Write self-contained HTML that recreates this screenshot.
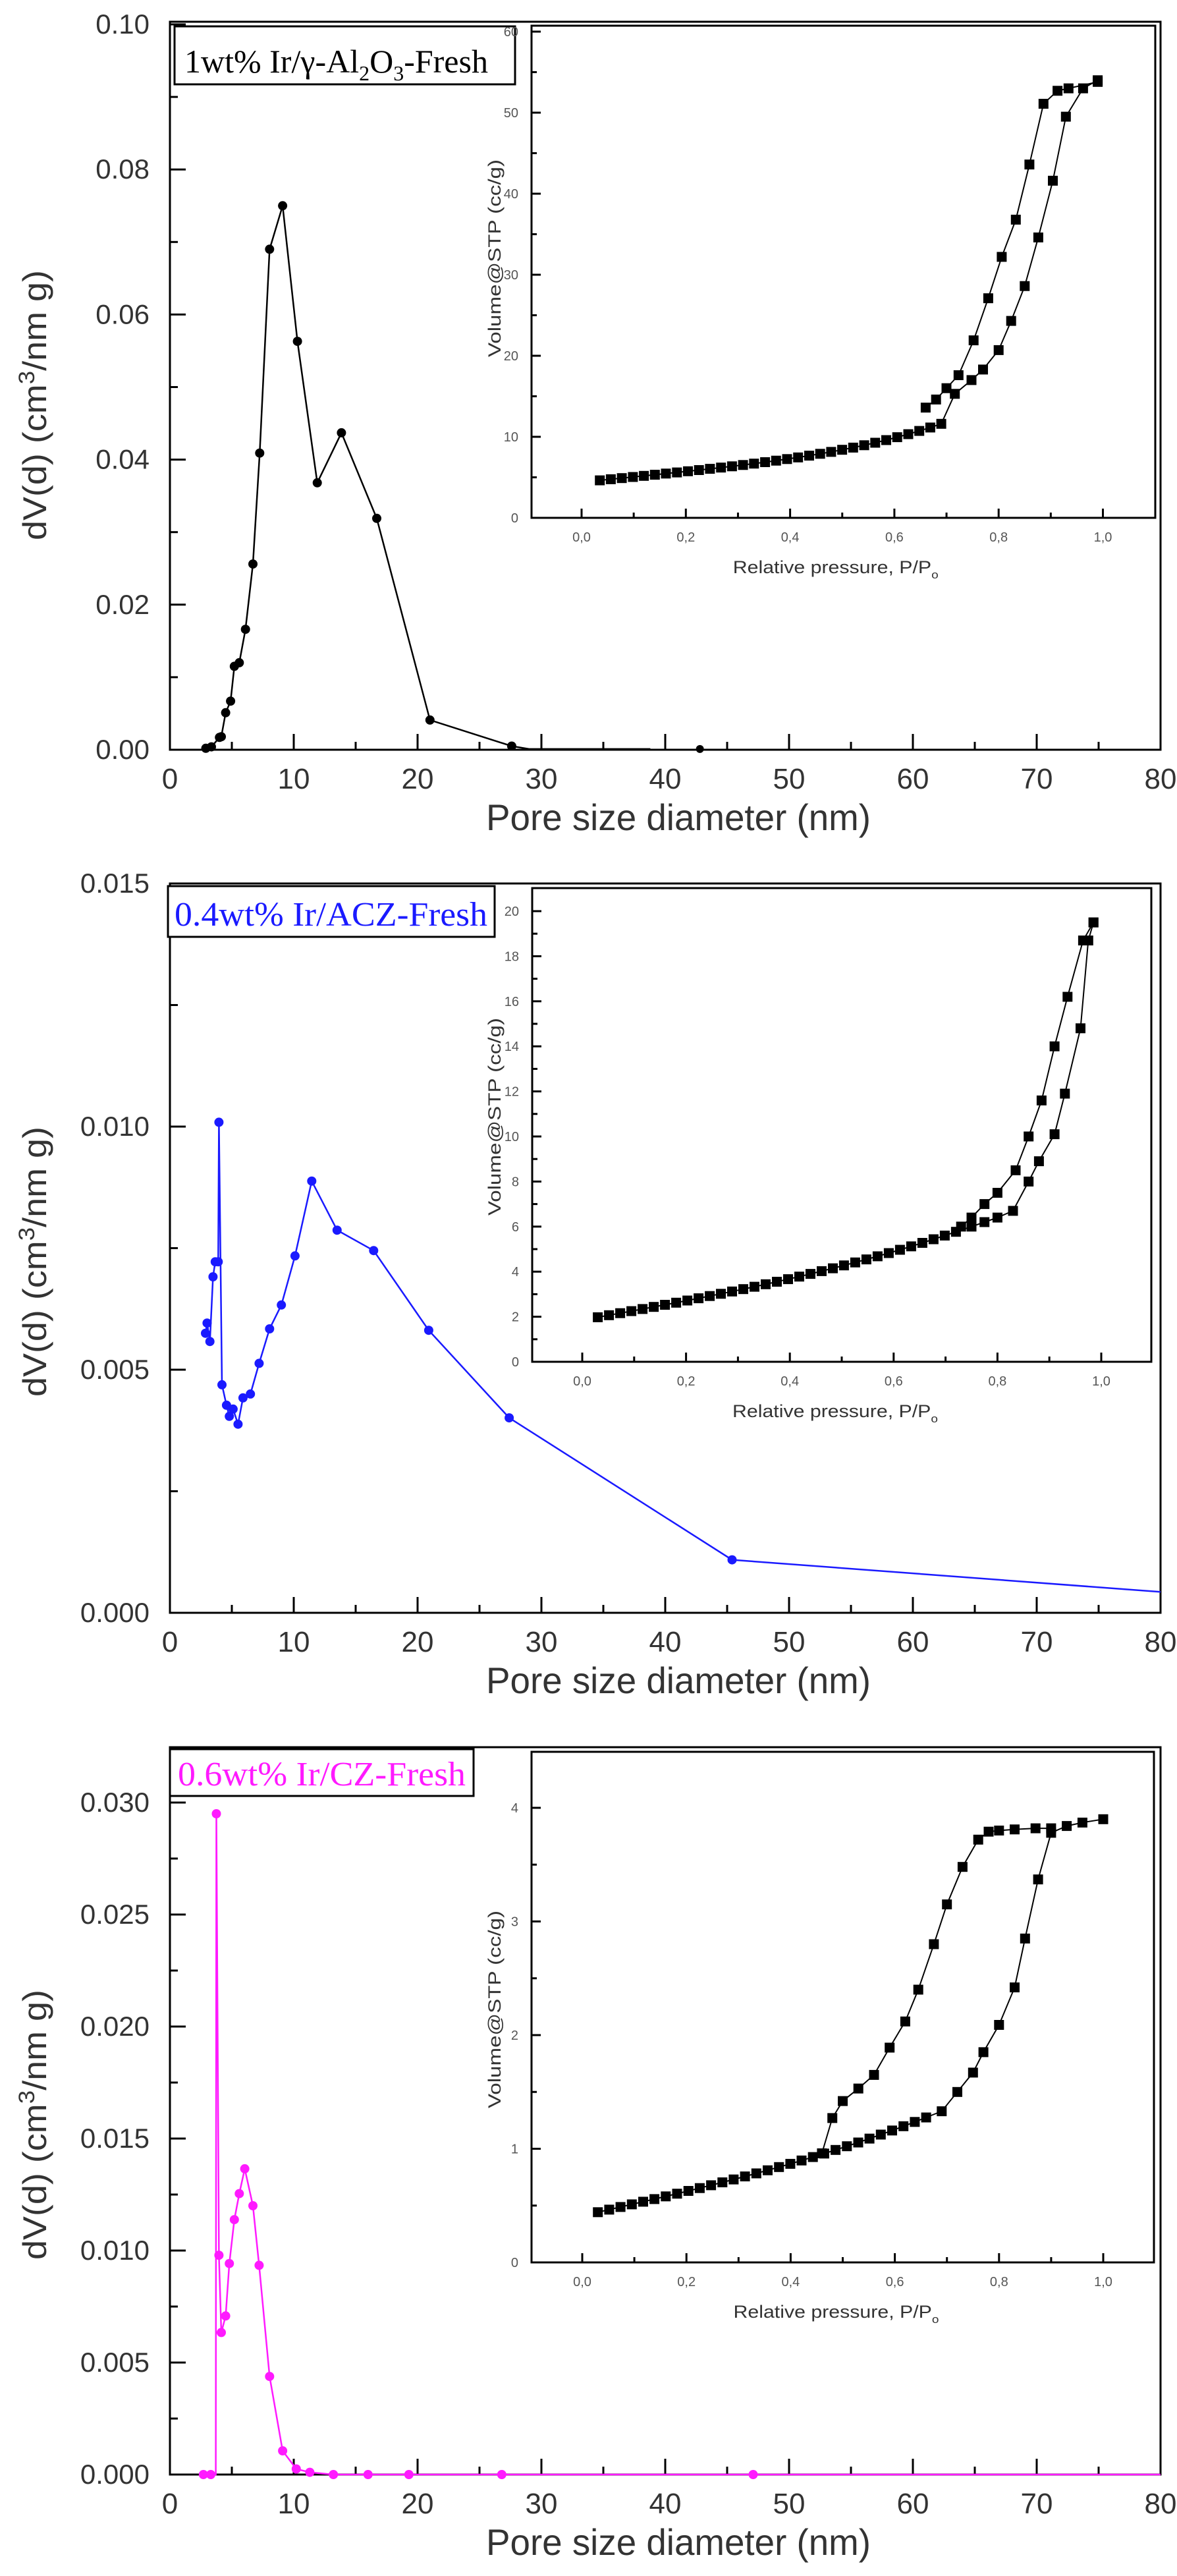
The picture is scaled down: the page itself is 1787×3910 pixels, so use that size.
<!DOCTYPE html>
<html><head><meta charset="utf-8">
<style>html,body{margin:0;padding:0;background:#fff;}svg{display:block;}</style>
</head><body>
<svg id="s" xmlns="http://www.w3.org/2000/svg" width="1787" height="3910" viewBox="0 0 1787 3910"></svg>
<script>
var S=document.getElementById('s'),out=[];
function L(x1,y1,x2,y2,c,w){out.push('<line x1="'+x1+'" y1="'+y1+'" x2="'+x2+'" y2="'+y2+'" stroke="'+(c||'#000')+'" stroke-width="'+(w||3)+'"/>');}
function T(x,y,t,o){o=o||{};out.push('<text x="'+x+'" y="'+y+'" font-family="'+(o.ff||'Liberation Sans, sans-serif')+'" font-size="'+(o.fs||42)+'" fill="'+(o.fill||'#333')+'" text-anchor="'+(o.a||'middle')+'"'+(o.tl?' textLength="'+o.tl+'" lengthAdjust="spacingAndGlyphs"':'')+(o.tr?' transform="'+o.tr+'"':'')+'>'+t+'</text>');}
function main(p){
 var X0=258,X1=1762,sx=(X1-X0)/80;
 var Y0=p.y0,sy=(p.y0-p.ytop)/p.ymax;
 var fx=function(v){return X0+v*sx},fy=function(v){return Y0-v*sy};
 out.push('<rect x="'+X0+'" y="'+p.ftop+'" width="'+(X1-X0)+'" height="'+(Y0-p.ftop)+'" fill="none" stroke="#000" stroke-width="3"/>');
 for(var v=0;v<=80;v+=5){var x=fx(v);L(x,Y0,x,Y0-(v%10==0?24:12));if(v%10==0)T(x,Y0+59,v,{fs:44});}
 var n=Math.round(p.ymax/p.minor);
 for(var i=0;i<=n;i++){var v=i*p.minor,y=fy(v),maj=(i%2==0);L(X0,y,X0+(maj?24:12),y);if(maj)T(X0-31,y+14,v.toFixed(p.dec),{a:'end',fs:42});}
 T(1030,Y0+122,'Pore size diameter (nm)',{fs:56,tl:584});
 T(0,0,'dV(d) (cm<tspan dy="-18" font-size="34">3</tspan><tspan dy="18">/nm g)</tspan>',{fs:50,tr:'translate(70,'+p.ylc+') rotate(-90)',tl:410});
 var pts=p.data.map(function(d){return fx(d[0]).toFixed(1)+','+fy(d[1]).toFixed(1)});
 out.push('<polyline points="'+pts.join(' ')+'" fill="none" stroke="'+p.col+'" stroke-width="2.5"/>');
 if(p.extra)p.extra(fx,fy);
 p.data.forEach(function(d){if(d[2]!==0)out.push('<circle cx="'+fx(d[0]).toFixed(1)+'" cy="'+fy(d[1]).toFixed(1)+'" r="7" fill="'+p.col+'"/>');});
 var b=p.leg;out.push('<rect x="'+b[0]+'" y="'+b[1]+'" width="'+(b[2]-b[0])+'" height="'+(b[3]-b[1])+'" fill="#fff" stroke="#000" stroke-width="3"/>');
 out.push(p.legText);
}
function inset(q){
 var fx=function(v){return q.x0+v*q.sx},fy=function(v){return q.yb-v*q.sy};
 out.push('<rect x="'+q.l+'" y="'+q.t+'" width="'+(q.r-q.l)+'" height="'+(q.yb-q.t)+'" fill="#fff" stroke="#000" stroke-width="3"/>');
 for(var i=0;i<=10;i++){var v=i/10,x=fx(v);L(x,q.yb,x,q.yb-(i%2==0?14:8),'#000',3);if(i%2==0)T(x,q.yb+36,v.toFixed(1).replace('.',','),{fs:20,fill:'#555'});}
 for(var v=0;v<=q.ymax+1e-9;v+=q.minor){var y=fy(v);var maj=Math.abs(v/q.major-Math.round(v/q.major))<1e-6;if(y<q.t)continue;L(q.l,y,q.l+(maj?14:8),y,'#000',3);if(maj)T(q.l-20,y+7,Math.round(v),{a:'end',fs:20,fill:'#555'});}
 T(q.x0+0.5*q.sx-10,q.yb+84,'Relative pressure, P/P<tspan dy="8" font-size="17">o</tspan>',{fs:27,fill:'#333',tl:312});
 T(0,0,'Volume@STP (cc/g)',{fs:27,fill:'#333',tr:'translate(760,'+q.ylc+') rotate(-90)',tl:300});
 [q.ads,q.des].forEach(function(arr){var pts=arr.map(function(d){return fx(d[0]).toFixed(1)+','+fy(d[1]).toFixed(1)});
  out.push('<polyline points="'+pts.join(' ')+'" fill="none" stroke="#000" stroke-width="2"/>');
  arr.forEach(function(d){out.push('<rect x="'+(fx(d[0])-7.5).toFixed(1)+'" y="'+(fy(d[1])-7.5).toFixed(1)+'" width="15" height="15" fill="#000"/>');});});
}
function lowfill(a,b,n,f){var r=[];for(var i=0;i<n;i++){var p=a+(b-a)*i/(n-1);r.push([p,f(p)]);}return r;}
// Panel 1
main({y0:1138,ytop:37,ftop:33,ymax:0.1,minor:0.01,dec:2,col:'#000',ylc:615,
data:[[2.9,0.0002],[3.35,0.0004],[4.0,0.0017],[4.15,0.0018],[4.5,0.0051],[4.9,0.0067],[5.2,0.0115],[5.6,0.012],[6.1,0.0166],[6.7,0.0256],[7.25,0.0409],[8.05,0.069],[9.1,0.075],[10.3,0.0563],[11.9,0.0368],[13.85,0.0437],[16.7,0.0319],[21.0,0.0041],[27.6,0.0005],[29,0.0001,0],[38.8,0.0001,0]],
extra:function(fx,fy){out.push('<circle cx="'+fx(42.8)+'" cy="'+fy(0.0001)+'" r="6" fill="#000"/>');},
leg:[265,40,782,128],
legText:'<text x="280" y="110" font-family="Liberation Serif, serif" font-size="50" fill="#000">1wt% Ir/γ-Al<tspan dy="12" font-size="32">2</tspan><tspan dy="-12">O</tspan><tspan dy="12" font-size="32">3</tspan><tspan dy="-12">-Fresh</tspan></text>'});
var a1=lowfill(0.035,0.69,32,function(p){return 4.4+p*6.5+Math.pow(p,4)*12;});
a1=a1.concat([[0.716,15.3],[0.748,17],[0.77,18.3],[0.8,20.7],[0.824,24.3],[0.85,28.6],[0.876,34.6],[0.904,41.6],[0.929,49.5],[0.962,53],[0.99,54]]);
inset({l:807,r:1754,t:39,yb:786,x0:883,sx:791.5,sy:12.3,ymax:60,minor:5,major:10,ylc:392,ads:a1,
des:[[0.99,53.8],[0.934,53],[0.913,52.7],[0.886,51.1],[0.859,43.6],[0.833,36.8],[0.806,32.2],[0.78,27.1],[0.752,21.9],[0.723,17.6],[0.7,16],[0.68,14.6],[0.66,13.6]]});
// Panel 2
main({y0:2448,ytop:1341,ftop:1341,ymax:0.015,minor:0.0025,dec:3,col:'#1a1aff',ylc:1915,
data:[[2.87,0.00575],[3.0,0.00596],[3.23,0.00558],[3.48,0.00691],[3.66,0.00722],[3.9,0.00722],[3.96,0.01009],[4.2,0.00469],[4.57,0.00427],[4.8,0.00404],[5.1,0.00419],[5.5,0.00388],[5.9,0.00442],[6.5,0.0045],[7.2,0.00513],[8.05,0.00584],[9.0,0.00633],[10.1,0.00734],[11.45,0.00888],[13.5,0.00787],[16.45,0.00745],[20.9,0.00581],[27.4,0.00401],[45.4,0.00109],[80,0.00043,0]],
leg:[255,1345,751,1422],
legText:'<text x="265" y="1405" font-family="Liberation Serif, serif" font-size="52" fill="#1a1aff" textLength="475" lengthAdjust="spacingAndGlyphs">0.4wt% Ir/ACZ-Fresh</text>'});
var a2=lowfill(0.03,0.72,33,function(p){return 1.85+p*4.2+Math.pow(p,3)*2.4;});
a2=a2.concat([[0.75,6.0],[0.775,6.2],[0.8,6.4],[0.83,6.7],[0.86,8.0],[0.88,8.9],[0.91,10.1],[0.93,11.9],[0.96,14.8],[0.975,18.7],[0.985,19.5]]);
inset({l:808,r:1748,t:1348,yb:2067,x0:884,sx:788,sy:34.2,ymax:20,minor:1,major:2,ylc:1695,ads:a2,
des:[[0.985,19.5],[0.965,18.7],[0.935,16.2],[0.91,14],[0.885,11.6],[0.86,10],[0.835,8.5],[0.8,7.5],[0.775,7.0],[0.75,6.4],[0.73,6.0]]});
// Panel 3
main({y0:3756,ytop:2736,ftop:2652,ymax:0.030,minor:0.0025,dec:3,col:'#ff1aff',ylc:3225,
data:[[2.7,0],[3.3,0],[3.7,0,0],[3.75,0.0295],[3.96,0.00979],[4.15,0.00634],[4.5,0.00708],[4.8,0.00942],[5.2,0.01138],[5.6,0.01254],[6.04,0.01365],[6.7,0.012],[7.2,0.00934],[8.05,0.00438],[9.1,0.00106],[10.2,0.00025],[11.3,0.0001],[13.2,0],[16,0],[19.3,0],[26.8,0],[47.1,0],[80,0,0]],
leg:[258,2655,719,2726],
legText:'<text x="270" y="2710" font-family="Liberation Serif, serif" font-size="52" fill="#ff1aff" textLength="437" lengthAdjust="spacingAndGlyphs">0.6wt% Ir/CZ-Fresh</text>'});
var a3=lowfill(0.03,0.66,30,function(p){return 0.41+p*1.05+Math.pow(p,3)*0.6;});
a3=a3.concat([[0.69,1.33],[0.72,1.5],[0.75,1.67],[0.77,1.85],[0.8,2.09],[0.83,2.42],[0.85,2.85],[0.875,3.37],[0.9,3.78],[0.93,3.84],[0.96,3.87],[1.0,3.9]]);
inset({l:807,r:1752,t:2659,yb:3434,x0:884,sx:791,sy:172.5,ymax:4,minor:0.5,major:1,ylc:3050,ads:a3,
des:[[0.9,3.82],[0.87,3.82],[0.83,3.81],[0.8,3.8],[0.78,3.79],[0.76,3.72],[0.73,3.48],[0.7,3.15],[0.675,2.8],[0.645,2.4],[0.62,2.12],[0.59,1.89],[0.56,1.65],[0.53,1.53],[0.5,1.42],[0.48,1.27],[0.46,0.96]]});
S.innerHTML=out.join('');
</script>
</body></html>
